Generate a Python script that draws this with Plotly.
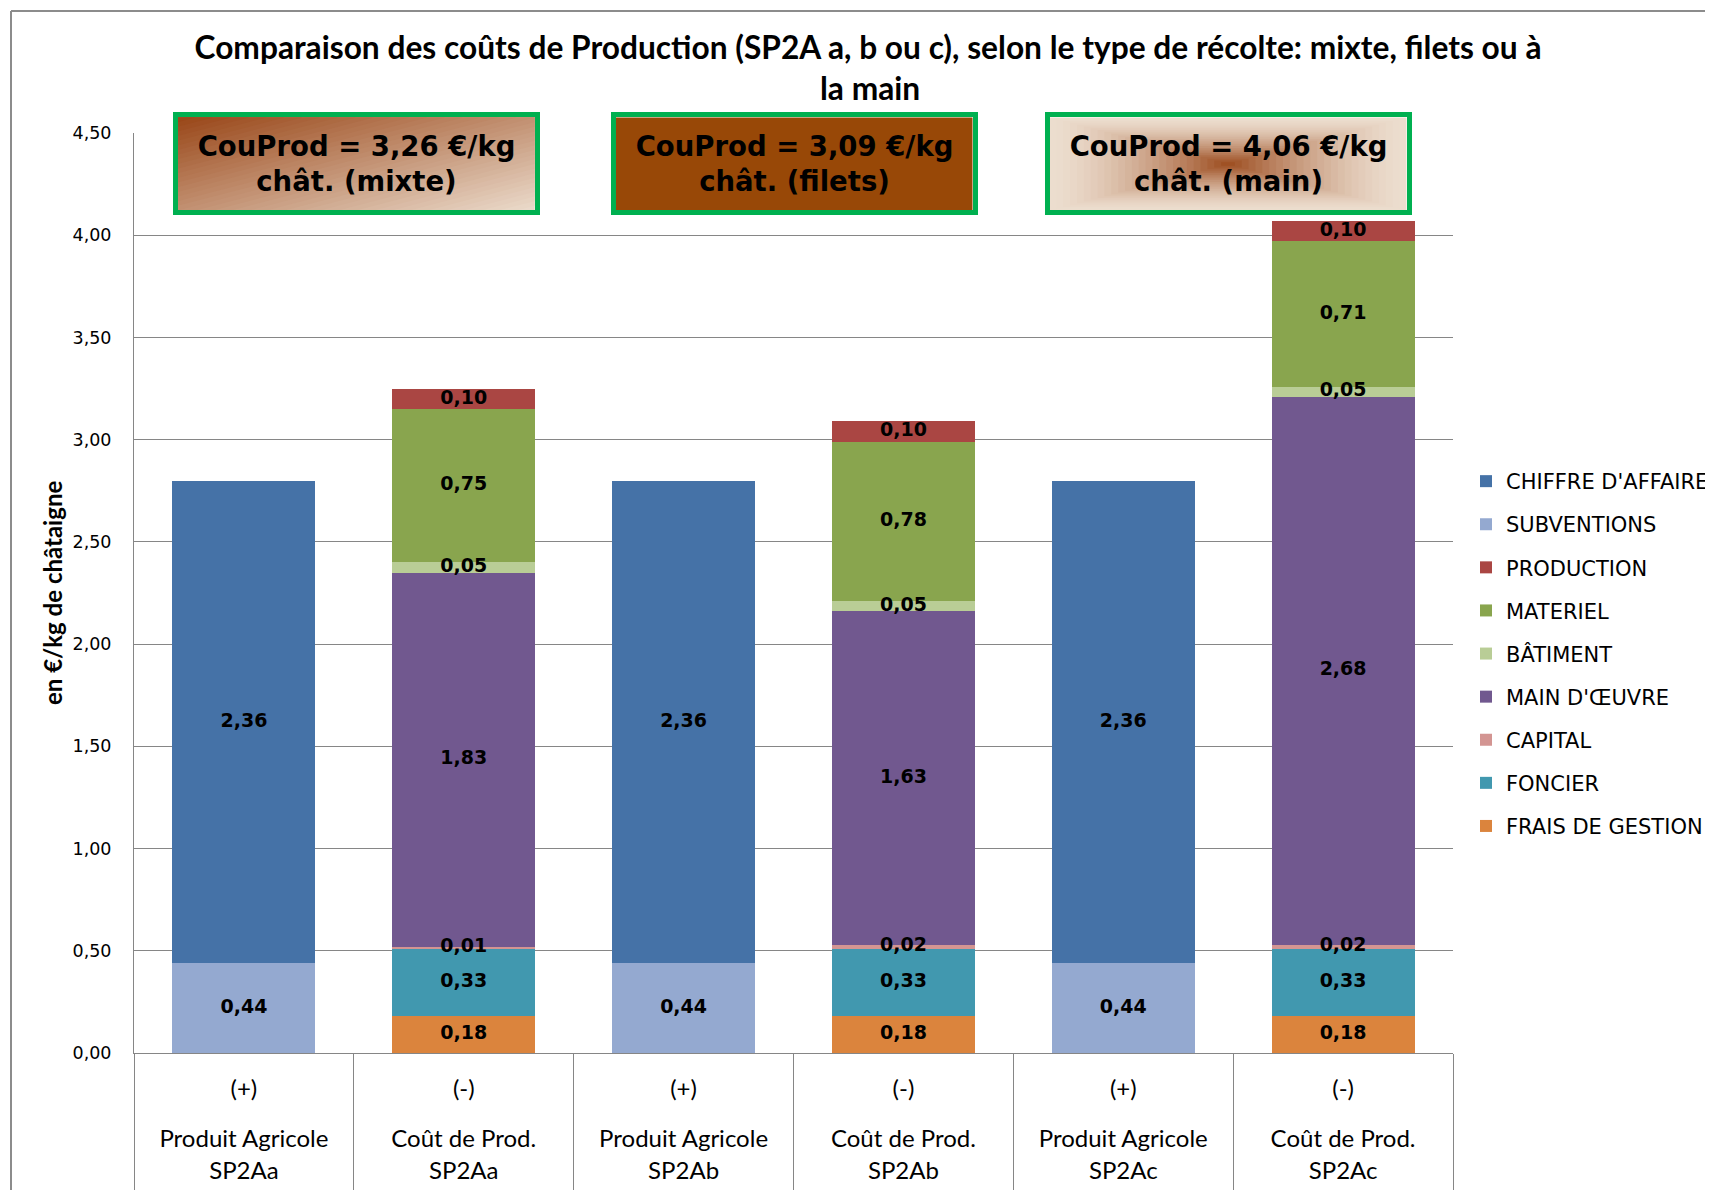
import plotly.graph_objects as go

# ---------------- data ----------------
categories = ["PA_a", "CP_a", "PA_b", "CP_b", "PA_c", "CP_c"]
sign_labels = ["(+)", "(-)", "(+)", "(-)", "(+)", "(-)"]
name_labels = ["Produit Agricole", "Coût de Prod.", "Produit Agricole", "Coût de Prod.",
               "Produit Agricole", "Coût de Prod."]
code_labels = ["SP2Aa", "SP2Aa", "SP2Ab", "SP2Ab", "SP2Ac", "SP2Ac"]

# stacked series, bottom -> top
frais_gestion = [None, 0.18, None, 0.18, None, 0.18]
foncier = [None, 0.33, None, 0.33, None, 0.33]
capital = [None, 0.01, None, 0.02, None, 0.02]
main_oeuvre = [None, 1.83, None, 1.63, None, 2.68]
batiment = [None, 0.05, None, 0.05, None, 0.05]
materiel = [None, 0.75, None, 0.78, None, 0.71]
production = [None, 0.10, None, 0.10, None, 0.10]
subventions = [0.44, None, 0.44, None, 0.44, None]
chiffre_affaire = [2.36, None, 2.36, None, 2.36, None]

series_names = ["FRAIS DE GESTION", "FONCIER", "CAPITAL", "MAIN D'ŒUVRE", "BÂTIMENT",
                "MATERIEL", "PRODUCTION", "SUBVENTIONS", "CHIFFRE D'AFFAIRE"]
series_values = [frais_gestion, foncier, capital, main_oeuvre, batiment,
                 materiel, production, subventions, chiffre_affaire]
series_colors = ["#DB843D", "#4198AF", "#D39592", "#71588F", "#B9CD96",
                 "#89A54E", "#AA4643", "#94A9D0", "#4572A7"]

box_labels = ["CouProd = 3,26 €/kg<br>chât. (mixte)",
              "CouProd = 3,09 €/kg<br>chât. (filets)",
              "CouProd = 4,06 €/kg<br>chât. (main)"]
title_line1 = "Comparaison des coûts de Production (SP2A a, b ou c), selon le type de récolte: mixte, filets ou à"
title_line2 = "la main"
y_title = "en €/kg de châtaigne"

# ---------------- layout geometry ----------------
OFF = 8                                   # page body margin
W, H = 1713, 1190 - OFF
# plot area in screen pixels
SL, SR, ST, SB = 134, 1453, 133, 1053
PL, PR, PT, PB = SL - OFF, SR - OFF, ST - OFF, SB - OFF


def px_x(sx):
    return (sx - SL) / (SR - SL)


def px_y(sy):
    return (SB - sy) / (SB - ST)


GRID = "#868686"
LABEL_FONT = "DejaVu Sans"
CAT_FONT = "Lato"

fig = go.Figure()

n = len(categories)
idx = list(range(n))
bounds = [i - 0.5 for i in range(n + 1)]

for i, (nm, vals, col) in enumerate(zip(series_names, series_values, series_colors)):
    fig.add_trace(go.Bar(
        x=categories, y=vals, name=nm,
        marker=dict(color=col, line=dict(width=0)),
        legendgroup=nm, legendrank=1000 - i * 10,
        hoverinfo="skip",
    ))

# data labels, drawn on top of all bars, centred on each stacked segment
base = [0.0] * n
for nm, vals in zip(series_names, series_values):
    xs, ys, vs = [], [], []
    for j, v in enumerate(vals):
        if v is None:
            continue
        xs.append(categories[j])
        ys.append(base[j] + v / 2)
        vs.append(v)
        base[j] += v
    fig.add_trace(go.Scatter(
        x=xs, y=ys, customdata=vs, mode="text", texttemplate="%{customdata:.2f}",
        textposition="middle center", cliponaxis=False,
        textfont=dict(family=LABEL_FONT, size=19, color="black", weight="bold"),
        showlegend=False, hoverinfo="skip", name=nm + " labels",
    ))

# invisible helper traces so the overlaid label / divider axes are drawn
for ax in ["x2", "x3", "x4"]:
    fig.add_trace(go.Scatter(x=idx, y=[0] * n, xaxis=ax, yaxis="y", mode="markers",
                             marker=dict(size=1, opacity=0), showlegend=False,
                             hoverinfo="skip"))

shapes = []
# chart-area border (top and left visible)
shapes.append(dict(type="line", xref="paper", yref="paper", x0=px_x(11), x1=px_x(1780),
                   y0=px_y(11), y1=px_y(11), line=dict(color="#8C8C8C", width=2), layer="above"))
shapes.append(dict(type="line", xref="paper", yref="paper", x0=px_x(11), x1=px_x(11),
                   y0=px_y(11), y1=px_y(1260), line=dict(color="#8C8C8C", width=2), layer="above"))

# boxes (screen px)
box_cx = [356, 794, 1228]
box_cy = 164
box_w, box_h, bw = 367, 103, 5
inner_w, inner_h = box_w - 2 * bw, box_h - 2 * bw

dark = (0x9A, 0x48, 0x1A)
light = (0xEC, 0xDD, 0xCE)


def mix(a, b, t):
    return "rgb(%d,%d,%d)" % tuple(round(a[k] + (b[k] - a[k]) * t) for k in range(3))


def box_pt(cx, u, v):
    x = cx - inner_w / 2 + u * inner_w
    y = box_cy - inner_h / 2 + v * inner_h
    return px_x(x), px_y(y)


def poly_path(cx, pts):
    coords = [box_pt(cx, u, v) for u, v in pts]
    return "M " + " L ".join("%.5f,%.5f" % c for c in coords) + " Z"


# box 1: linear diagonal gradient (dark top-left -> light bottom-right)
cx = box_cx[0]
shapes.append(dict(type="path", xref="paper", yref="paper", layer="above",
                   path=poly_path(cx, [(0, 0), (1, 0), (1, 1), (0, 1)]),
                   fillcolor=mix(dark, light, 1.0), line=dict(width=0)))
N = 40
for k in range(N, 0, -1):
    c = 2.0 * k / N
    t = (c - 2.0 / N) / 2.0
    if c <= 1:
        pts = [(0, 0), (c, 0), (0, c)]
    else:
        pts = [(0, 0), (1, 0), (1, c - 1), (c - 1, 1), (0, 1)]
    shapes.append(dict(type="path", xref="paper", yref="paper", layer="above",
                       path=poly_path(cx, pts), fillcolor=mix(dark, light, t),
                       line=dict(width=0)))

# box 2: solid
cx = box_cx[1]
shapes.append(dict(type="path", xref="paper", yref="paper", layer="above",
                   path=poly_path(cx, [(0, 0), (1, 0), (1, 1), (0, 1)]),
                   fillcolor="#984807", line=dict(width=0)))

# box 3: rectangular path gradient (light edge -> dark centre)
cx = box_cx[2]
M = 26
for k in range(M):
    s = 1 - k / M
    t = (1 - s) ** 1.5
    a = (1 - s) / 2
    shapes.append(dict(type="path", xref="paper", yref="paper", layer="above",
                       path=poly_path(cx, [(a, a), (1 - a, a), (1 - a, 1 - a), (a, 1 - a)]),
                       fillcolor=mix(light, dark, t), line=dict(width=0)))

annotations = []
for cxv, txt in zip(box_cx, box_labels):
    annotations.append(dict(
        x=px_x(cxv), y=px_y(box_cy), xref="paper", yref="paper",
        text="<b>" + txt + "</b>", showarrow=False, align="center",
        font=dict(family=LABEL_FONT, size=27.5, color="black"),
        width=inner_w, height=inner_h, borderwidth=bw, borderpad=0,
        bordercolor="#00B050", bgcolor="rgba(0,0,0,0)",
        xanchor="center", yanchor="middle",
    ))

annotations.append(dict(x=px_x(870), y=px_y(88), xref="paper", yref="paper",
                        text=title_line2, showarrow=False, xanchor="center", yanchor="middle",
                        font=dict(family=CAT_FONT, size=31.7, color="black", weight="bold")))
annotations.append(dict(x=px_x(52), y=0.5, xref="paper", yref="paper", text=y_title,
                        textangle=-90, showarrow=False, xanchor="center", yanchor="middle",
                        font=dict(family=CAT_FONT, size=24, color="black", weight="bold")))

common_x = dict(showgrid=False, zeroline=False, automargin=False, fixedrange=True)
CAT_SIZE = 24

fig.update_layout(
    width=W, height=H,
    margin=dict(l=PL, r=W - PR, t=PT, b=H - PB, pad=0, autoexpand=False),
    paper_bgcolor="white", plot_bgcolor="white",
    barmode="stack", bargap=0.35,
    separators=", ",
    title=dict(text=title_line1, x=px_x(868), xref="paper", xanchor="center",
               y=1 - (48 - OFF) / H, yref="container", yanchor="middle",
               font=dict(family=CAT_FONT, size=31.7, color="black", weight="bold")),
    showlegend=True,
    legend=dict(xref="container", yref="container",
                x=(1466 - OFF) / W, y=1 - (461 - OFF) / H, xanchor="left", yanchor="top",
                font=dict(family=LABEL_FONT, size=21, color="black"),
                tracegroupgap=12.8, bgcolor="rgba(0,0,0,0)", itemclick=False),
    xaxis=dict(type="category", categoryorder="array", categoryarray=categories,
               range=[-0.5, n - 0.5], tickmode="array", tickvals=categories, ticktext=sign_labels,
               ticks="", showline=True, linecolor=GRID, linewidth=1,
               tickfont=dict(family=CAT_FONT, size=CAT_SIZE, color="black"),
               ticklabelstandoff=14, **common_x),
    xaxis2=dict(overlaying="x", anchor="y", side="bottom", type="linear", range=[-0.5, n - 0.5],
                tickmode="array", tickvals=idx, ticktext=name_labels, ticks="", showline=False,
                tickfont=dict(family=CAT_FONT, size=CAT_SIZE, color="black"),
                ticklabelstandoff=69, **common_x),
    xaxis3=dict(overlaying="x", anchor="y", side="bottom", type="linear", range=[-0.5, n - 0.5],
                tickmode="array", tickvals=idx, ticktext=code_labels, ticks="", showline=False,
                tickfont=dict(family=CAT_FONT, size=CAT_SIZE, color="black"),
                ticklabelstandoff=101, **common_x),
    xaxis4=dict(overlaying="x", anchor="y", side="bottom", type="linear", range=[-0.5, n - 0.5],
                tickmode="array", tickvals=bounds, ticks="outside", ticklen=160, tickwidth=1,
                tickcolor=GRID, showticklabels=False, showline=False, **common_x),
    yaxis=dict(range=[0, 4.5], dtick=0.5, tick0=0, tickformat=".2f",
               showgrid=True, gridcolor=GRID, gridwidth=1, zeroline=False,
               showline=True, linecolor=GRID, linewidth=1,
               ticks="outside", ticklen=18, tickcolor="rgba(0,0,0,0)",
               tickfont=dict(family=LABEL_FONT, size=17.5, color="black"),
               automargin=False, fixedrange=True),
    shapes=shapes,
    annotations=annotations,
)

fig.write_html("out.html")
